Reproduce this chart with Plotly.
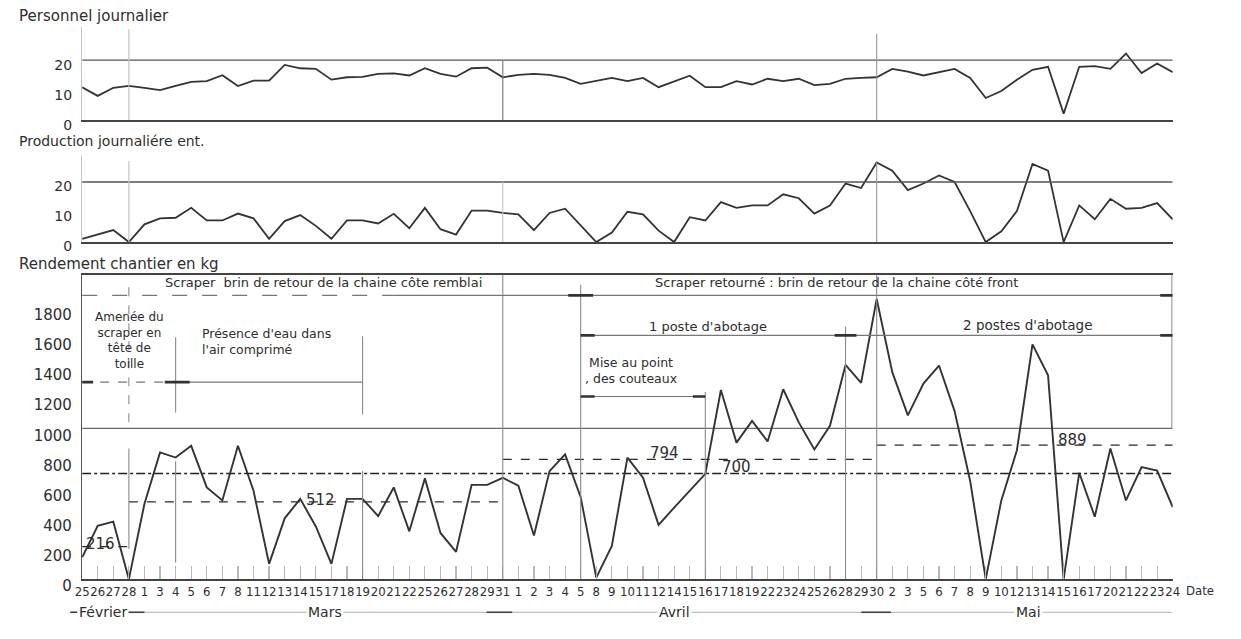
import plotly.graph_objects as go

W, H = 1241, 639

# ---------------- data ----------------
date_labels = ["25", "26", "27", "28",
               "1", "3", "4", "5", "6", "7", "8", "11", "12", "13", "14", "15", "17", "18", "19", "20", "21", "22",
               "25", "26", "27", "28", "29", "31",
               "1", "2", "3", "4", "5", "8", "9", "10", "11", "12", "14", "15", "16", "17", "18", "19", "22", "23",
               "24", "25", "26", "28", "29", "30",
               "2", "3", "5", "6", "7", "8", "9", "10", "12", "13", "14", "15", "16", "17", "20", "21", "22", "23", "24"]

months = ["Février", "Mars", "Avril", "Mai"]

personnel = [11.0, 8.1, 10.8, 11.4, 10.8, 10.0, 11.4, 12.8, 13.0, 15.0, 11.4, 13.2, 13.2, 18.4, 17.3, 17.1,
             13.5, 14.3, 14.4, 15.4, 15.6, 14.9, 17.3, 15.4, 14.5, 17.3, 17.5, 14.3, 15.1, 15.4, 15.1, 14.1,
             12.1, 13.0, 14.1, 13.0, 14.1, 11.0, 13.0, 14.8, 11.0, 11.0, 13.0, 11.9, 13.8, 13.0, 13.8, 11.7,
             12.1, 13.8, 14.1, 14.3, 17.1, 16.2, 14.9, 16.0, 17.1, 14.1, 7.4, 9.7, 13.5, 16.8, 17.8, 2.2,
             17.8, 18.0, 17.1, 22.2, 15.7, 18.9, 16.0]

production = [1.1, 2.5, 4.0, 0.0, 5.9, 7.9, 8.1, 11.4, 7.2, 7.2, 9.5, 7.9, 1.1, 7.0, 9.0, 5.4,
              1.1, 7.2, 7.2, 6.2, 9.4, 4.6, 11.4, 4.3, 2.5, 10.5, 10.5, 9.7, 9.2, 4.0, 9.7, 11.1,
              5.6, 0.0, 3.2, 10.1, 9.2, 3.8, 0.0, 8.3, 7.2, 13.3, 11.4, 12.2, 12.2, 15.9, 14.6, 9.5,
              12.2, 19.5, 18.0, 26.5, 23.8, 17.3, 19.5, 22.2, 20.0, 10.3, 0.0, 3.6, 10.3, 26.0, 23.8, 0.0,
              12.2, 7.6, 14.4, 11.1, 11.4, 13.0, 7.6]

rendement = [144, 354, 381, 0, 500, 840, 806, 884, 608, 522, 884, 586, 101, 403, 532, 349,
             101, 532, 532, 418, 608, 317, 668, 306, 181, 625, 625, 672, 619, 289, 716, 827,
             543, 10, 220, 806, 672, 360, 474, 586, 698, 1254, 905, 1049, 913, 1259, 1039, 860,
             1017, 1420, 1301, 1857, 1372, 1086, 1297, 1416, 1114, 651, 0, 522, 855, 1556, 1351, 0,
             705, 414, 866, 522, 743, 720, 478]

period_start = [0, 3, 27, 51]
period_end = [3, 27, 51, 70]
period_mean = [216, 512, 794, 889]
norm_value = 700
ref_value = 1000

# ---------------- geometry / style (page pixels) ----------------
idx = list(range(len(date_labels)))
XL, XR = 76, 1179


def px_to_paper_x(px):
    return px / W


def py_to_paper_y(py):
    return 1 - py / H


xdom = [px_to_paper_x(XL), px_to_paper_x(XR)]

# panel: (py of top, py of zero, px per unit)
TOP = (28.0, 123.3, 3.08)
MID = (160.0, 248.3, 3.08)
BOT = (282.0, 594.0, 0.1547)


def dom(p):
    return [py_to_paper_y(p[1]), py_to_paper_y(p[0])]


def rng(p):
    return [0, (p[1] - p[0]) / p[2]]


FONT = "DejaVu Sans, Liberation Sans, sans-serif"
COND = "DejaVu Sans Condensed, Liberation Sans Narrow, DejaVu Sans, sans-serif"
TXT = "#2e2e2e"
LINE = "#333333"
GREY = "#7a7a7a"
FAINT = "#c4c4c4"

fig = go.Figure()

common = dict(mode="lines", showlegend=False, hoverinfo="skip")
fig.add_trace(go.Scatter(x=idx, y=personnel, xaxis="x2", yaxis="y2",
                         line=dict(color=LINE, width=1.8), **common))
fig.add_trace(go.Scatter(x=idx, y=production, xaxis="x3", yaxis="y3",
                         line=dict(color=LINE, width=1.8), **common))

# reference lines in bottom panel
fig.add_trace(go.Scatter(x=[0, 70], y=[ref_value, ref_value], xaxis="x", yaxis="y",
                         line=dict(color="#6a6a6a", width=1.2), **common))
fig.add_trace(go.Scatter(x=[0, 70], y=[norm_value, norm_value], xaxis="x", yaxis="y",
                         line=dict(color="#222222", width=1.6, dash="dashdot"), **common))
for s, e, v in zip(period_start, period_end, period_mean):
    fig.add_trace(go.Scatter(x=[s, e], y=[v, v], xaxis="x", yaxis="y",
                             line=dict(color="#2a2a2a", width=1.3, dash="dash"), **common))

fig.add_trace(go.Scatter(x=idx, y=rendement, xaxis="x", yaxis="y",
                         line=dict(color=LINE, width=1.9), **common))

shapes = []


def seg(x0, x1, y0, y1, xr, yr, color=GREY, width=1.1, dash="solid"):
    shapes.append(dict(type="line", x0=x0, x1=x1, y0=y0, y1=y1, xref=xr, yref=yr,
                       line=dict(color=color, width=width, dash=dash), layer="above"))


# top & middle panels: 20 lines and vertical markers
seg(0, 70, 20, 20, "x2", "y2", color="#555555", width=1.3)
seg(0, 70, 20, 20, "x3", "y3", color="#555555", width=1.3)
seg(3, 3, 0, 30.3, "x2", "y2", color=FAINT, width=1.2)
seg(27, 27, 0, 20, "x2", "y2", color="#777777", width=1.1)
seg(51, 51, 0, 28.7, "x2", "y2", color="#999999", width=1.1)
seg(3, 3, 0, 27, "x3", "y3", color=FAINT, width=1.2)
seg(27, 27, 0, 20, "x3", "y3", color=FAINT, width=1.1)
seg(51, 51, 0, 27, "x3", "y3", color="#999999", width=1.1)

# bottom panel vertical lines
vlines = [(3, 1040, 1978, "dash"), (3, 200, 866, "solid"), (6, 1105, 1603, "solid"), (6, 110, 782, "solid"),
          (18, 1092, 1610, "solid"), (18, 0, 717, "solid"), (27, 0, 2017, "solid"), (32, 0, 1952, "solid"),
          (40, 0, 1240, "solid"), (49, 0, 1674, "solid"), (51, 0, 2017, "solid"), (69.95, 1000, 2017, "solid")]
for xv, y0, y1, d in vlines:
    seg(xv, xv, y0, y1, "x", "y", color="#8a8a8a", width=1.1, dash=d)

# span lines
spans = [(0, 20, 1881, "longdash"), (20, 32, 1881, "solid"), (32, 70, 1881, "solid"),
         (32, 49, 1616, "solid"), (49, 70, 1616, "solid"),
         (0, 6, 1306, "dash"), (6, 18, 1306, "solid"), (32, 40, 1211, "solid")]
for x0, x1, yv, d in spans:
    seg(x0, x1, yv, yv, "x", "y", color="#777777", width=1.1, dash=d)
ends = [(31.2, 32.8, 1881), (69.2, 70, 1881), (32, 32.9, 1616), (48.3, 49.7, 1616), (69.2, 70, 1616),
        (0, 0.7, 1306), (5.3, 6.9, 1306), (32, 32.9, 1211), (39.2, 40, 1211)]
for x0, x1, yv in ends:
    seg(x0, x1, yv, yv, "x", "y", color="#333333", width=2.6)

# month rule under the date labels
ym = py_to_paper_y(628)
seg(px_to_paper_x(64), px_to_paper_x(1178), ym, ym, "paper", "paper", color="#b0b0b0", width=1.0)
for a, b in [(64, 71), (120, 139), (485, 511), (864, 894)]:
    seg(px_to_paper_x(a), px_to_paper_x(b), ym, ym, "paper", "paper", color="#444444", width=1.6)

annotations = []


def text(t, x, y, xr, yr, size=13, xanchor="center", align="center", bg=None, family=FONT):
    a = dict(text=t, x=x, y=y, xref=xr, yref=yr, showarrow=False, xanchor=xanchor, yanchor="middle",
             align=align, font=dict(family=family, size=size, color=TXT))
    if bg:
        a["bgcolor"] = bg
    annotations.append(a)


# titles
text("Personnel journalier", px_to_paper_x(10), py_to_paper_y(16), "paper", "paper", size=15, xanchor="left")
text("Production journaliére ent.", px_to_paper_x(10), py_to_paper_y(145), "paper", "paper", size=14,
     xanchor="left")
text("Rendement chantier en kg", px_to_paper_x(10), py_to_paper_y(271), "paper", "paper", size=15,
     xanchor="left")

# month labels
for m, cx in zip(months, [97, 322, 675, 1033]):
    text(m, px_to_paper_x(cx), ym, "paper", "paper", size=14, bg="white")
text("Date", px_to_paper_x(1207), py_to_paper_y(606), "paper", "paper", size=13, family=COND)

# bottom panel texts
text("Scraper  brin de retour de la chaine côte remblai", 15.5, 1965, "x", "y", size=13)
text("Scraper retourné : brin de retour de la chaine côté front", 48.4, 1965, "x", "y", size=13)
text("1 poste d'abotage", 40.2, 1674, "x", "y", size=13)
text("2 postes d'abotage", 60.7, 1687, "x", "y", size=13.5)
text("Mise au point<br>, des couteaux", 35.2, 1383, "x", "y", size=12.5)
text("Amenée du<br>scraper en<br>tête de<br>toille", 3.05, 1584, "x", "y", size=12)
text("Présence d'eau dans<br>l'air comprimé", 7.55, 1577, "x", "y", size=12.5, xanchor="left", align="left")

for t, xv, yv in [(str(period_mean[0]), 1.15, 233), (str(period_mean[1]), 15.3, 527),
                  (str(period_mean[2]), 37.4, 834), (str(norm_value), 42.0, 743),
                  (str(period_mean[3]), 63.6, 924)]:
    text(t, xv, yv, "x", "y", size=15)

xcommon = dict(domain=xdom, range=[0, 70], showgrid=False, zeroline=False, showline=True,
               linecolor="#444444", linewidth=1.5, fixedrange=True)
ycommon = dict(showgrid=False, zeroline=False, showline=True, ticks="", fixedrange=True,
               ticklabelstandoff=6)
small_ticks = dict(family=FONT, size=14, color=TXT)

fig.update_layout(
    width=W, height=H, autosize=False, margin=dict(l=0, r=0, t=0, b=0),
    paper_bgcolor="white", plot_bgcolor="white", showlegend=False,
    xaxis=dict(anchor="y", tickmode="array", tickvals=idx, ticktext=date_labels, ticks="inside",
               ticklen=13, tickwidth=1.2, tickcolor="#b8b8b8", tickangle=0, mirror=True,
               tickfont=dict(family=COND, size=13, color=TXT), **xcommon),
    xaxis2=dict(anchor="y2", showticklabels=False, ticks="", **xcommon),
    xaxis3=dict(anchor="y3", showticklabels=False, ticks="", **xcommon),
    yaxis=dict(anchor="x", domain=dom(BOT), range=rng(BOT), tickmode="array",
               tickvals=[0, 200, 400, 600, 800, 1000, 1200, 1400, 1600, 1800],
               tickfont=dict(family=FONT, size=15, color=TXT),
               linecolor="#555555", linewidth=1.3, ticklabelshift=7, **ycommon),
    yaxis2=dict(anchor="x2", domain=dom(TOP), range=rng(TOP), tickmode="array", tickvals=[0, 10, 20],
                tickfont=small_ticks, linecolor=FAINT, linewidth=1.2, ticklabelshift=5, **ycommon),
    yaxis3=dict(anchor="x3", domain=dom(MID), range=rng(MID), tickmode="array", tickvals=[0, 10, 20],
                tickfont=small_ticks, linecolor=FAINT, linewidth=1.2, ticklabelshift=4, **ycommon),
    shapes=shapes, annotations=annotations,
)

fig.write_html("out.html", config={"displayModeBar": False, "staticPlot": True},
               post_script="document.body.style.margin='0px';document.body.style.overflow='hidden';")
